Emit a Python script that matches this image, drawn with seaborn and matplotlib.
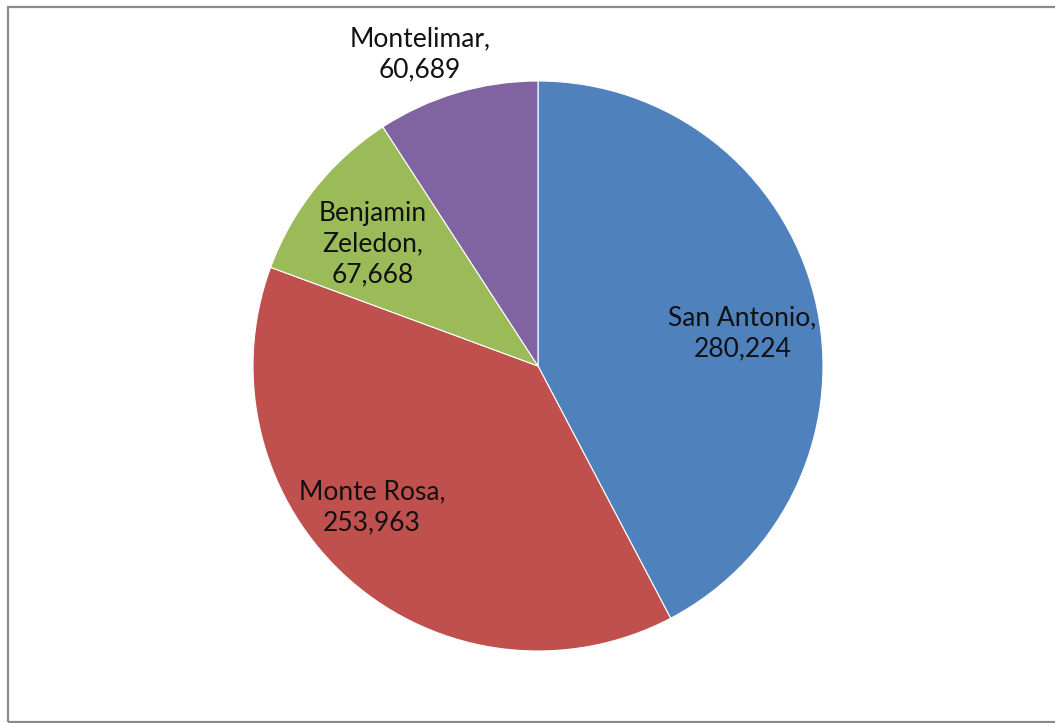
import numpy as np
import matplotlib
matplotlib.use("Agg")
import matplotlib.pyplot as plt
import seaborn as sns
from matplotlib.patches import Rectangle

sns.set_style("white")
plt.rcParams["font.family"] = ["Lato", "DejaVu Sans"]

# ==========================
# DATA
# ==========================

names = ["San Antonio", "Monte Rosa", "Benjamin\nZeledon", "Montelimar"]
values = [280224, 253963, 67668, 60689]
colors = ["#4F81BD", "#C0504D", "#9BBB59", "#8064A2"]

# label placement (fraction of radius, angle shift from wedge middle)
label_dist = [0.726, 0.765, 0.72, 1.17]
label_shift = [-4.7, -8.4, 2.2, 4.2]

# ==========================
# PIE
# ==========================

fig = plt.figure(figsize=(10.55, 7.23), dpi=100)
ax = fig.add_axes([0, 0, 1, 1])

cx, cy, r = 538, 357, 285

wedges, _ = ax.pie(
    values,
    colors=colors,
    startangle=90,
    counterclock=False,
    radius=r,
    center=(cx, cy),
    wedgeprops=dict(edgecolor="white", linewidth=0.8),
    frame=True,
)

for w, name, val, d, s in zip(wedges, names, values, label_dist, label_shift):
    ang = np.deg2rad((w.theta1 + w.theta2) / 2 + s)
    x = cx + d * r * np.cos(ang)
    y = cy + d * r * np.sin(ang)
    ax.text(x, y, f"{name},\n{val:,}", ha="center", va="center",
            fontsize=19, color="#111111", linespacing=1.3)

ax.set_xlim(0, 1055)
ax.set_ylim(0, 723)
ax.set_aspect("equal")
ax.axis("off")

# chart border (right side falls outside the picture)
fig.patches.append(Rectangle((8 / 1055, 1.5 / 723), 1060 / 1055, 715 / 723,
                             transform=fig.transFigure, fill=False,
                             edgecolor="#8a8a8a", linewidth=1.6))

fig.savefig("out.png", dpi=100)
